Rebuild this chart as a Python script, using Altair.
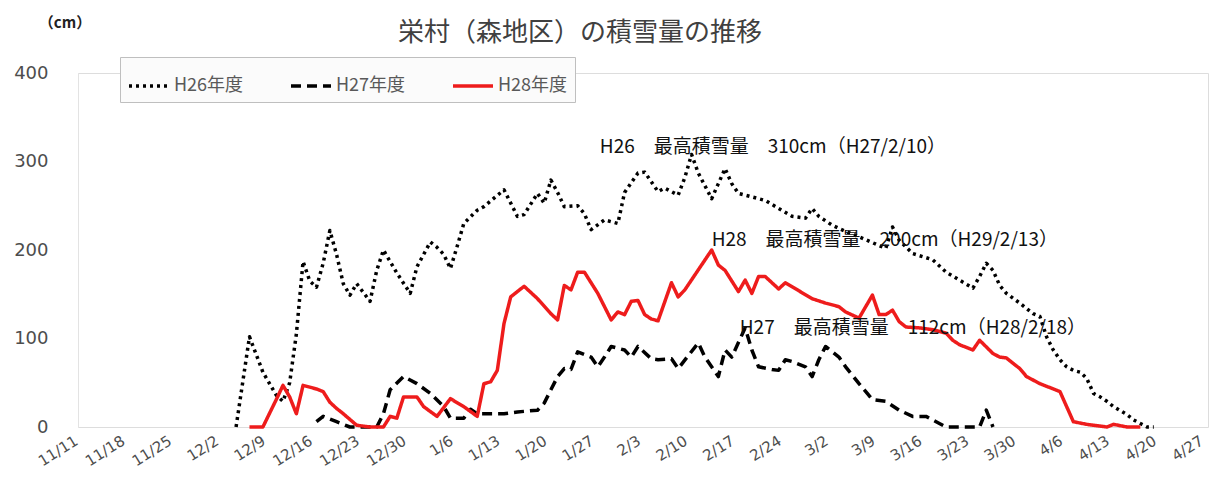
import json
import altair as alt
import pandas as pd

title_text = "栄村（森地区）の積雪量の推移"
unit_text = "（cm）"
series_names = ["H26年度", "H27年度", "H28年度"]
tick_labels = ["11/11", "11/18", "11/25", "12/2", "12/9", "12/16", "12/23", "12/30",
               "1/6", "1/13", "1/20", "1/27", "2/3", "2/10", "2/17", "2/24", "3/2",
               "3/9", "3/16", "3/23", "3/30", "4/6", "4/13", "4/20", "4/27"]

# day offsets from 11/11 and snow depth (cm)
h26_day = [23, 25, 27, 29, 30, 31, 32, 33, 34, 35, 36, 37, 38, 39, 40, 41, 43, 44, 45, 47,
           49, 50, 52, 53, 54, 55, 56, 57, 59, 60, 63, 65, 66, 68, 69, 70, 71, 72, 74, 75,
           76, 78, 80, 81, 83, 84, 86, 87, 89, 90, 91, 92, 94, 95, 96, 97, 98, 100, 102, 104,
           106, 108, 109, 110, 112, 114, 116, 119, 120, 121, 122, 124, 127, 129, 131, 133, 134, 135, 136, 137,
           138, 140, 142, 143, 144, 145, 146, 147, 148, 149, 150, 151, 152, 153, 154, 156, 157, 158, 159, 160]
h26_cm = [0, 102, 62, 36, 29, 50, 105, 187, 165, 158, 185, 222, 195, 162, 149, 162, 142, 177, 200, 174,
          151, 181, 209, 203, 195, 179, 204, 230, 245, 249, 268, 238, 240, 264, 253, 279, 265, 249, 250, 241,
          223, 234, 230, 265, 287, 288, 266, 270, 262, 282, 308, 287, 258, 275, 292, 275, 264, 260, 256, 247,
          238, 236, 247, 238, 228, 221, 215, 205, 202, 226, 211, 196, 189, 175, 166, 157, 170, 185, 177, 160,
          151, 140, 128, 125, 102, 87, 76, 68, 64, 62, 55, 38, 34, 29, 23, 14, 8, 4, 0, 0]

h27_day = [35, 36, 38, 40, 44, 45, 46, 48, 50, 52, 54, 55, 57, 58, 59, 63, 65, 68, 69, 70,
           71, 72, 73, 74, 76, 77, 78, 79, 81, 82, 83, 85, 86, 88, 89, 92, 93, 95, 96, 97,
           99, 100, 101, 103, 104, 105, 106, 108, 109, 110, 111, 113, 114, 116, 118, 120, 122, 124, 126, 128,
           129, 134, 135, 136]
h27_cm = [6, 12, 6, 0, 0, 15, 42, 57, 49, 38, 23, 10, 10, 20, 15, 15, 17, 19, 27, 42,
          57, 66, 65, 85, 79, 68, 79, 91, 87, 79, 91, 77, 76, 77, 66, 95, 79, 57, 87, 79,
          112, 87, 68, 65, 64, 76, 74, 68, 57, 76, 91, 79, 68, 49, 31, 29, 19, 12, 12, 4,
          0, 0, 19, 0]

h28_day = [25, 27, 29, 30, 31, 32, 33, 35, 36, 37, 38, 39, 41, 43, 45, 46, 47, 48, 50, 51,
           53, 55, 57, 59, 60, 61, 62, 63, 64, 66, 68, 70, 71, 72, 73, 74, 75, 77, 79, 80,
           81, 82, 83, 84, 85, 86, 88, 89, 90, 94, 95, 96, 98, 99, 100, 101, 102, 104, 105, 107,
           109, 111, 113, 114, 116, 117, 118, 119, 120, 121, 122, 123, 125, 127, 129, 130, 131, 133, 134, 136,
           137, 138, 140, 141, 143, 146, 147, 148, 150, 151, 153, 154, 156, 158]
h28_cm = [0, 0, 31, 47, 34, 15, 47, 43, 40, 28, 21, 15, 2, 0, 0, 12, 10, 34, 34, 23,
          12, 32, 23, 12, 49, 51, 64, 117, 147, 159, 145, 128, 121, 160, 155, 175, 175, 151, 121, 130,
          127, 142, 143, 127, 122, 120, 163, 147, 155, 200, 183, 177, 153, 166, 151, 170, 170, 156, 163, 154,
          145, 140, 136, 130, 123, 136, 149, 127, 127, 132, 119, 113, 112, 110, 106, 98, 93, 87, 98, 83,
          79, 78, 66, 57, 49, 40, 23, 6, 3, 2, 0, 3, 0, 0]

ann_text = ["H26　最高積雪量　310cm（H27/2/10）",
            "H28　最高積雪量　200cm（H29/2/13）",
            "H27　最高積雪量　112cm（H28/2/18）"]
ann_day = [77.3, 94, 98.2]
ann_cm = [316, 211, 112]

rows = []
for name, days, vals in zip(series_names, [h26_day, h27_day, h28_day], [h26_cm, h27_cm, h28_cm]):
    for d, v in zip(days, vals):
        rows.append({"series": name, "day": d, "cm": v})
df = pd.DataFrame(rows)
ann_df = pd.DataFrame({"day": ann_day, "cm": ann_cm, "text": ann_text})

x_scale = alt.Scale(domain=[-0.6, 168.1], nice=False, zero=False)
y_scale = alt.Scale(domain=[0, 400], nice=False)

label_expr = json.dumps(tick_labels, ensure_ascii=False) + "[round(datum.value/7)]"

x_axis = alt.Axis(values=list(range(0, 169, 7)), labelExpr=label_expr, title=None,
                  grid=False, ticks=False, domain=False, labelAngle=-32,
                  labelAlign="right", labelBaseline="middle", labelPadding=12,
                  labelOffset=-6, labelFont="DejaVu Sans", labelFontSize=15,
                  labelColor="#4d4d4d", labelOverlap=False)
y_axis = alt.Axis(values=[0, 100, 200, 300, 400], title=None, grid=False, ticks=False,
                  domain=True, domainColor="#e3e3e3", labelPadding=30,
                  labelFont="DejaVu Sans", labelFontSize=18, labelColor="#4d4d4d")

legend = alt.Legend(title=None, orient="none", legendX=42, legendY=-16,
                    direction="horizontal", symbolType="stroke", symbolSize=1600,
                    symbolStrokeWidth=3.5, labelFont="Noto Sans CJK JP", labelFontSize=18,
                    labelColor="#595959", columnPadding=40, padding=7,
                    strokeColor="#bfbfbf", fillColor="#fbfbfb", labelOffset=3)

lines = alt.Chart(df).mark_line(strokeWidth=3.5, strokeJoin="round").encode(
    x=alt.X("day:Q", scale=x_scale, axis=x_axis),
    y=alt.Y("cm:Q", scale=y_scale, axis=y_axis),
    color=alt.Color("series:N", scale=alt.Scale(domain=series_names,
                    range=["#000000", "#000000", "#ee1c1c"]), legend=legend),
    strokeDash=alt.StrokeDash("series:N", scale=alt.Scale(domain=series_names,
                              range=[[3, 4], [10, 6], [1, 0]]), legend=legend),
    order=alt.Order("day:Q"),
)

ann = alt.Chart(ann_df).mark_text(align="left", baseline="middle", font="Noto Sans CJK JP",
                                  fontSize=19, color="#111111").encode(
    x=alt.X("day:Q", scale=x_scale), y=alt.Y("cm:Q", scale=y_scale), text="text:N")

title = alt.Chart(pd.DataFrame({"t": [title_text]})).mark_text(
    align="center", baseline="middle", font="Noto Sans CJK JP", fontSize=26,
    color="#404040").encode(x=alt.value(502), y=alt.value(-40), text="t:N")

unit = alt.Chart(pd.DataFrame({"t": [unit_text]})).mark_text(
    align="center", baseline="middle", font="Noto Sans CJK JP", fontSize=15,
    fontWeight="bold", color="#222222").encode(x=alt.value(-13), y=alt.value(-50), text="t:N")

chart = alt.layer(lines, ann, title, unit).properties(
    width=1130, height=354,
    padding={"left": 70, "top": 65, "right": 8, "bottom": 47},
    autosize=alt.AutoSizeParams(type="none"),
).configure_view(stroke=None).configure(background="white")

chart.save("out.html", embed_options={"renderer": "svg", "actions": False})
